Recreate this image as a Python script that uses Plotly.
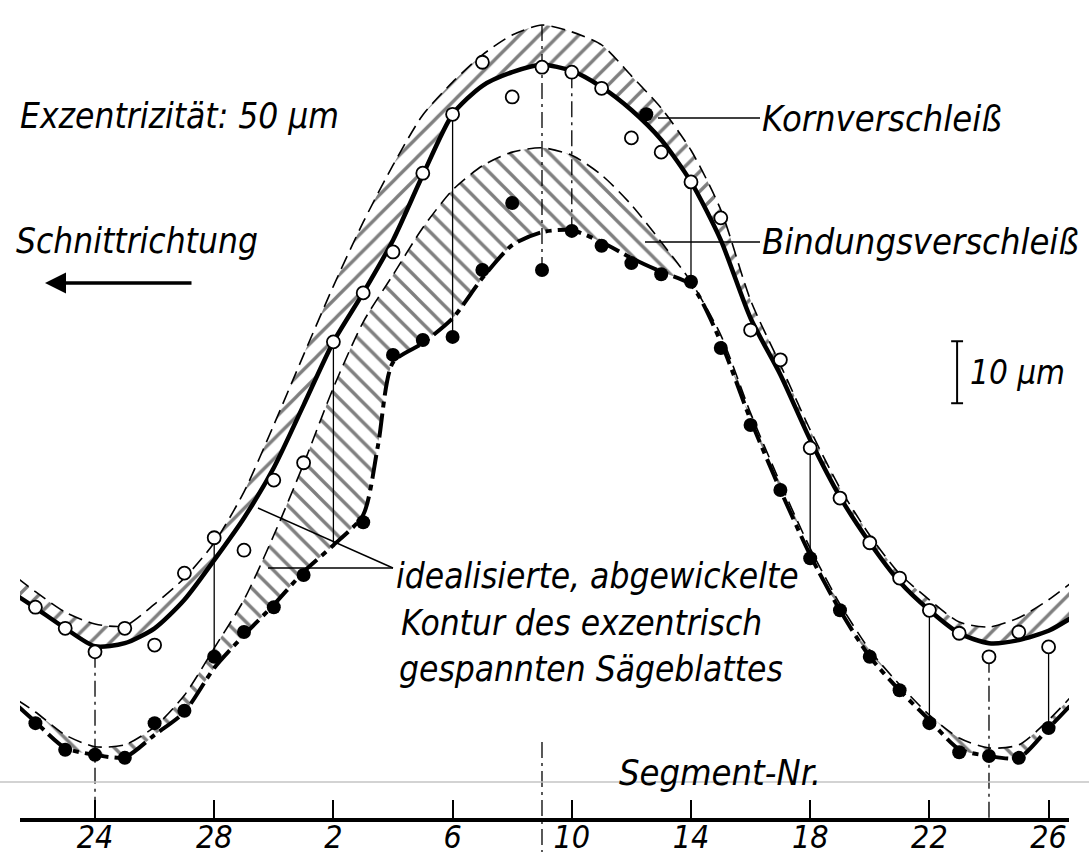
import numpy as np
import plotly.graph_objects as go

# ---------------- data: profile heights in µm above the base line ----------------
# x = position along the unwrapped circumference in segments, counted from segment 24
tick_pos = [0, 4, 8, 12, 16, 20, 24, 28, 32]
tick_labels = ["24", "28", "2", "6", "10", "14", "18", "22", "26"]

curve_pos = [-2.6, -2, -1, 0, 1, 2, 3, 4, 5, 6, 7, 8, 9, 10, 11, 12, 13, 14, 15, 16,
             17, 18, 19, 20, 21, 22, 23, 24, 25, 26, 27, 28, 29, 30, 31, 32, 32.8]
# idealised contour (upper, dashed) and worn contour after grain wear (thick solid)
upper_ideal = [38.7, 36.5, 33.2, 31.3, 31.0, 34.5, 38.7, 44.4, 52.6, 63.4, 74.7, 85.8,
               96.1, 105.3, 113.4, 118.7, 123.1, 126.3, 127.9, 126.8, 124.7, 119.7, 114.5,
               107.7, 98.1, 83.5, 73.1, 62.6, 53.2, 45.6, 39.4, 35.2, 31.6, 30.8, 32.3,
               35.2, 38.1]
upper_worn = [35.8, 33.9, 30.6, 27.7, 28.2, 30.6, 35.2, 41.6, 48.4, 56.5, 66.6, 76.8,
              84.7, 93.2, 103.7, 113.5, 118.1, 120.3, 121.5, 120.5, 117.9, 114.2, 109.4,
              102.6, 93.2, 80.6, 71.5, 61.0, 51.8, 44.4, 38.1, 33.5, 29.8, 28.2, 28.7,
              30.2, 32.4]
# idealised contour (lower, dashed) and contour after bond wear (thick chain line)
lower_ideal = [19.0, 17.1, 13.4, 11.5, 11.8, 14.7, 19.8, 27.4, 35.2, 45.6, 57.1, 69.4,
               80.0, 87.6, 95.2, 101.3, 105.2, 107.4, 108.1, 106.9, 103.7, 98.9, 92.9,
               86.5, 77.9, 65.3, 54.0, 43.5, 34.5, 27.1, 21.5, 16.6, 12.9, 11.3, 11.8,
               15.8, 19.8]
lower_pos = [-2.6, -2, -1, 0, 1, 2, 3, 4, 5, 6, 7, 8, 9, 9.5, 10, 11, 12, 13, 14, 15, 16,
             17, 18, 19, 20, 21, 22, 23, 24, 25, 26, 27, 28, 29, 30, 31, 32, 32.8]
lower_worn = [18.1, 15.5, 11.3, 10.2, 9.8, 13.4, 17.1, 24.2, 29.5, 34.4, 39.7, 44.0, 48.9,
              60.2, 73.5, 76.6, 80.6, 87.1, 92.4, 94.5, 94.8, 92.9, 90.3, 88.1, 86.0,
              76.8, 64.2, 52.9, 42.4, 33.5, 26.0, 20.6, 15.8, 11.1, 10.0, 9.7, 14.5, 18.5]

# measured points: grain tips (open circles) and bond surface (filled circles)
open_pos = [-2, -1, 0, 1, 2, 3, 4, 5, 6, 7, 8, 9, 10, 11, 12, 13, 14, 15, 16, 17, 18,
            19, 20, 21, 22, 23, 24, 25, 26, 27, 28, 29, 30, 31, 32]
open_um = [34.0, 30.6, 26.8, 30.6, 27.9, 39.5, 45.2, 43.2, 54.5, 57.3, 76.8, 84.7, 91.3,
           104.0, 113.5, 121.9, 116.3, 121.1, 120.3, 117.7, 109.7, 107.4, 102.6, 96.8,
           78.7, 73.9, 59.7, 51.6, 44.4, 38.7, 33.5, 29.8, 26.0, 30.0, 27.6]
filled_pos = [-2, -1, 0, 1, 2, 3, 4, 5, 6, 7, 9, 10, 11, 12, 13, 14, 15, 16, 17, 18, 18.5,
              19, 20, 21, 22, 23, 24, 25, 26, 27, 28, 29, 30, 31, 32]
filled_um = [15.3, 11.0, 10.2, 9.7, 15.3, 17.3, 26.0, 30.0, 34.0, 39.2, 47.7, 74.7, 77.1,
             77.6, 88.4, 99.2, 88.4, 94.7, 92.3, 89.5, 113.5, 87.7, 86.5, 75.8, 63.4,
             52.9, 41.9, 33.5, 26.0, 20.6, 15.3, 10.6, 10.0, 9.7, 14.5]

connector_pos = [4, 8, 12, 20, 24, 28, 32]     # thin verticals open -> lower profile
chain_conn_pos = [16]                          # chain-line vertical open -> lower profile
chain_base_pos = [0, 30]                       # chain lines from minimum to the base line
peak_pos = 15                                  # chain line through the maximum
scale_bar_um = 10

# ---------------- geometry / helpers ----------------
W, H = 1089, 861
ML, MR, MT, MB = 20, 20, 0, 43
X_RANGE = [-2.517, 32.685]
Y_RANGE = [0, 131.94]
FONT = "DejaVu Sans Condensed, DejaVu Sans, sans-serif"


def px_x(px):
    return (px - ML) / (W - ML - MR)


def px_y(py):
    return (H - MB - py) / (H - MT - MB)


def d2p_x(x):
    return (x - X_RANGE[0]) / (X_RANGE[1] - X_RANGE[0])


def lower_at(p):
    if p in filled_pos:
        return filled_um[filled_pos.index(p)]
    return float(np.interp(p, lower_pos, lower_worn))


def open_at(p):
    return open_um[open_pos.index(p)]


fig = go.Figure()
spl = dict(shape="spline", smoothing=0.7)

fig.add_trace(go.Scatter(x=curve_pos, y=upper_ideal, mode="lines",
                         line=dict(color="black", width=1.6, dash="14px,7px", **spl)))
fig.add_trace(go.Scatter(x=curve_pos, y=upper_worn, mode="lines",
                         line=dict(color="black", width=4.5, **spl),
                         fill="tonexty", fillcolor="white",
                         fillpattern=dict(shape="/", size=14, solidity=0.24,
                                          fgcolor="black", bgcolor="white")))
fig.add_trace(go.Scatter(x=curve_pos, y=lower_ideal, mode="lines",
                         line=dict(color="black", width=1.6, dash="14px,7px", **spl)))
fig.add_trace(go.Scatter(x=lower_pos, y=lower_worn, mode="lines",
                         line=dict(color="black", width=4, dash="24px,6px,6px,6px", **spl),
                         fill="tonexty", fillcolor="white",
                         fillpattern=dict(shape="\\", size=14, solidity=0.24,
                                          fgcolor="black", bgcolor="white")))

# thin connectors
cx, cy = [], []
for p in connector_pos:
    cx += [p, p, None]
    cy += [open_at(p), lower_at(p), None]
fig.add_trace(go.Scatter(x=cx, y=cy, mode="lines", line=dict(color="black", width=1.3)))

# chain lines
hx, hy = [], []
for p in chain_conn_pos:
    hx += [p, p, None]
    hy += [open_at(p), lower_at(p), None]
for p in chain_base_pos:
    hx += [p, p, None]
    hy += [open_at(p), 0, None]
hx += [peak_pos, peak_pos, None]
hy += [float(np.interp(peak_pos, curve_pos, upper_ideal)), lower_at(peak_pos), None]
fig.add_trace(go.Scatter(x=hx, y=hy, mode="lines",
                         line=dict(color="black", width=1.3, dash="16px,5px,3px,5px")))

fig.add_trace(go.Scatter(x=open_pos, y=open_um, mode="markers",
                         marker=dict(symbol="circle", size=13, color="white",
                                     line=dict(color="black", width=1.8))))
fig.add_trace(go.Scatter(x=filled_pos, y=filled_um, mode="markers",
                         marker=dict(symbol="circle", size=14, color="black",
                                     line=dict(color="black", width=0))))

shapes = []
# scale bar (10 µm)
sb_x, sb_y0 = 28.93, 66.9
shapes.append(dict(type="line", xref="x", yref="y", x0=sb_x, x1=sb_x, y0=sb_y0,
                   y1=sb_y0 + scale_bar_um, line=dict(color="black", width=2)))
for yy in (sb_y0, sb_y0 + scale_bar_um):
    shapes.append(dict(type="line", xref="x", yref="y", x0=sb_x - 0.2, x1=sb_x + 0.2,
                       y0=yy, y1=yy, line=dict(color="black", width=2)))
# chain line through maximum, continued across the base line
shapes.append(dict(type="line", xref="paper", yref="paper", x0=d2p_x(peak_pos),
                   x1=d2p_x(peak_pos), y0=px_y(742), y1=px_y(852),
                   line=dict(color="black", width=1.3, dash="16px,5px,3px,5px")))
# faint scan line
shapes.append(dict(type="line", xref="paper", yref="paper", x0=px_x(0), x1=px_x(W),
                   y0=px_y(782), y1=px_y(782), line=dict(color="#c4c4c4", width=1.5)))
# leader lines
leaders = [((658, 118), (760, 118)), ((645, 242), (760, 242)),
           ((393, 568), (258, 508)), ((393, 568), (268, 568))]
for (x0, y0), (x1, y1) in leaders:
    shapes.append(dict(type="line", xref="paper", yref="paper", x0=px_x(x0), x1=px_x(x1),
                       y0=px_y(y0), y1=px_y(y1), line=dict(color="black", width=1.4)))

ann = []


def label(text, px, py, size=36):
    ann.append(dict(text=text, xref="paper", yref="paper", x=px_x(px), y=px_y(py),
                    xanchor="left", yanchor="middle", showarrow=False,
                    font=dict(family=FONT, size=size, color="black", style="italic")))


label("Exzentrizität: 50 µm", 18, 116, 35)
label("Schnittrichtung", 14, 241, 35)
label("Kornverschleiß", 760, 118, 36)
label("Bindungsverschleiß", 760, 242, 36)
label("10 µm", 968, 372, 33)
label("idealisierte, abgewickelte", 394, 576, 35)
label("Kontur des exzentrisch", 399, 623, 35)
label("gespannten Sägeblattes", 397, 669, 35)
label("Segment-Nr.", 617, 772, 36)

# direction arrow
ann.append(dict(text="", xref="paper", yref="paper", x=px_x(45), y=px_y(283),
                ax=148, ay=0, showarrow=True, arrowhead=2, arrowsize=1.2,
                arrowwidth=3.5, arrowcolor="black", standoff=0))

fig.update_layout(
    width=W, height=H, margin=dict(l=ML, r=MR, t=MT, b=MB, pad=0, autoexpand=False),
    paper_bgcolor="white", plot_bgcolor="white", showlegend=False,
    shapes=shapes, annotations=ann,
    xaxis=dict(range=X_RANGE, showgrid=False, zeroline=False, showline=True,
               linewidth=4, linecolor="black", ticks="inside", ticklen=18,
               tickwidth=1.5, tickcolor="black", tickvals=tick_pos, ticktext=tick_labels,
               tickfont=dict(family=FONT, size=32, color="black", style="italic"),
               ticklabelstandoff=-12, automargin=False, fixedrange=True),
    yaxis=dict(range=Y_RANGE, visible=False, fixedrange=True, automargin=False),
)

fig.write_html("out.html", include_plotlyjs=True, config={"displayModeBar": False},
               post_script="document.body.style.margin='0px';document.body.style.overflow='hidden';")
